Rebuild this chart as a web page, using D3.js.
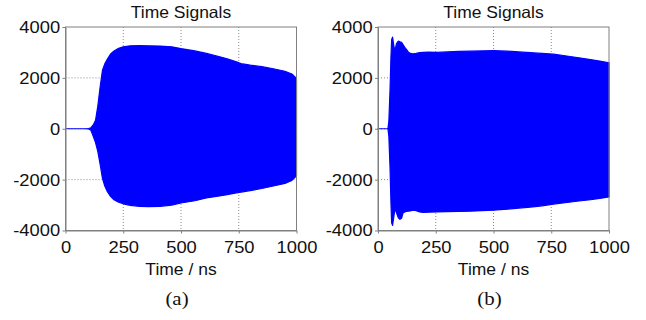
<!DOCTYPE html>
<html>
<head>
<meta charset="utf-8">
<script src="https://cdn.jsdelivr.net/npm/d3@7"></script>
<style>
  body { margin: 0; background: #fff; }
  svg { display: block; }
</style>
</head>
<body>
<svg id="chart"></svg>
<script>
// tick values
var xTicks = [0, 250, 500, 750, 1000];
var yTicks = [-4000, -2000, 0, 2000, 4000];

// panel (a): envelope of the time signal (ns, upper, lower)
var timeA  = [0, 80, 100, 110, 120, 130, 140, 150, 160, 170, 180, 195, 210, 230, 250, 280, 320, 360, 410, 460, 500, 560, 610, 660, 700, 740, 760, 800, 850, 900, 950, 980, 1000];
var upperA = [0, 0, 10, 40, 150, 330, 900, 1650, 2300, 2550, 2720, 2940, 3060, 3160, 3220, 3260, 3270, 3260, 3250, 3220, 3150, 3060, 2960, 2850, 2750, 2630, 2560, 2500, 2440, 2360, 2260, 2150, 1980];
var lowerA = [0, 0, -10, -60, -300, -540, -900, -1400, -1950, -2250, -2450, -2660, -2790, -2890, -2950, -3010, -3050, -3060, -3050, -3000, -2920, -2830, -2720, -2650, -2590, -2520, -2490, -2430, -2350, -2250, -2150, -2030, -1850];

// panel (b)
var timeB  = [0, 43, 47, 52, 56, 59, 63, 68, 73, 80, 88, 95, 102, 109, 116, 123, 131, 140, 152, 165, 180, 195, 220, 253, 300, 350, 400, 450, 500, 560, 610, 660, 710, 760, 810, 870, 920, 960, 1000];
var upperB = [0, 0, 300, 1500, 2800, 3500, 3600, 3300, 3050, 3350, 3450, 3420, 3400, 3300, 3200, 3120, 3020, 2960, 2940, 2960, 2990, 3000, 3010, 3000, 3020, 3040, 3050, 3060, 3070, 3050, 3020, 2990, 2960, 2930, 2870, 2790, 2720, 2660, 2590];
var lowerB = [0, 0, -300, -1500, -2900, -3700, -3800, -3500, -3150, -3300, -3500, -3560, -3520, -3300, -3270, -3250, -3240, -3230, -3200, -3220, -3270, -3290, -3280, -3270, -3260, -3250, -3240, -3220, -3200, -3160, -3120, -3080, -3030, -2960, -2910, -2840, -2790, -2740, -2680];

var svgWidth = 646;
var svgHeight = 320;

var plotTop = 27;
var plotBottom = 230.5;
var plotWidth = 231;

var signalColor = '#0000ff';
var frameColor = '#808080';
var sansFont = 'Liberation Sans, Arial, sans-serif';

var svg = d3.select('#chart')
            .attr('width', svgWidth)
            .attr('height', svgHeight);

svg.append('rect')
    .attr('width', svgWidth)
    .attr('height', svgHeight)
    .attr('fill', '#fff');

// plain integer labels with a hyphen minus
function plainFormat(d) {
    return String(d);
}

function drawPanel(x0, caption, time, upper, lower) {
    var xScale = d3.scaleLinear().domain([0, 1000]).range([x0, x0 + plotWidth]);
    var yScale = d3.scaleLinear().domain([-4000, 4000]).range([plotBottom, plotTop]);
    var cx = x0 + plotWidth / 2;
    var g = svg.append('g');

    // dotted grid (inner ticks only)
    g.selectAll('.vgrid')
        .data(xTicks.slice(1, -1))
        .enter()
        .append('line')
        .attr('x1', function(d){ return xScale(d); })
        .attr('x2', function(d){ return xScale(d); })
        .attr('y1', plotTop)
        .attr('y2', plotBottom)
        .attr('stroke', '#8a8a8a')
        .attr('stroke-dasharray', '1,2');

    g.selectAll('.hgrid')
        .data(yTicks.slice(1, -1))
        .enter()
        .append('line')
        .attr('x1', x0)
        .attr('x2', x0 + plotWidth)
        .attr('y1', function(d){ return yScale(d); })
        .attr('y2', function(d){ return yScale(d); })
        .attr('stroke', '#8a8a8a')
        .attr('stroke-dasharray', '1,2');

    // signal envelope
    var points = time.map(function(t, i){
        return { t: t, hi: upper[i], lo: lower[i] };
    });

    var area = d3.area()
        .x(function(d){ return xScale(d.t); })
        .y0(function(d){ return yScale(d.lo); })
        .y1(function(d){ return yScale(d.hi); });

    g.append('path')
        .datum(points)
        .attr('d', area)
        .attr('fill', signalColor)
        .attr('stroke', signalColor)
        .attr('stroke-width', 1.2)
        .attr('stroke-linejoin', 'round');

    // frame
    g.append('rect')
        .attr('x', x0)
        .attr('y', plotTop)
        .attr('width', plotWidth)
        .attr('height', plotBottom - plotTop)
        .attr('fill', 'none')
        .attr('stroke', frameColor);

    // axes
    var xAxis = g.append('g')
        .attr('transform', 'translate(0,' + plotBottom + ')')
        .call(d3.axisBottom(xScale).tickValues(xTicks).tickFormat(plainFormat)
              .tickSize(3).tickSizeOuter(0).tickPadding(7));

    var yAxis = g.append('g')
        .attr('transform', 'translate(' + x0 + ',0)')
        .call(d3.axisLeft(yScale).tickValues(yTicks).tickFormat(plainFormat)
              .tickSize(3).tickSizeOuter(0).tickPadding(2));

    [xAxis, yAxis].forEach(function(ax){
        ax.attr('font-family', sansFont).attr('font-size', 17);
        ax.select('.domain').attr('stroke', frameColor);
        ax.selectAll('.tick line').attr('stroke', frameColor);
        ax.selectAll('.tick text').attr('fill', '#111').attr('transform', 'scale(1.08,1)');
    });

    // title
    g.append('text')
        .attr('transform', 'translate(' + cx + ',17.5) scale(1.06,1)')
        .attr('text-anchor', 'middle')
        .attr('font-family', sansFont)
        .attr('font-size', 16.5)
        .attr('fill', '#111')
        .text('Time Signals');

    // x label
    g.append('text')
        .attr('transform', 'translate(' + cx + ',275) scale(1.06,1)')
        .attr('text-anchor', 'middle')
        .attr('font-family', sansFont)
        .attr('font-size', 16.5)
        .attr('fill', '#111')
        .text('Time / ns');

    // caption
    g.append('text')
        .attr('transform', 'translate(' + (cx - 4) + ',305) scale(1.1,1)')
        .attr('text-anchor', 'middle')
        .attr('font-family', 'Liberation Serif, Times New Roman, serif')
        .attr('font-size', 19)
        .attr('fill', '#111')
        .text(caption);
}

drawPanel(65.5, '(a)', timeA, upperA, lowerA);
drawPanel(378, '(b)', timeB, upperB, lowerB);
</script>
</body>
</html>
